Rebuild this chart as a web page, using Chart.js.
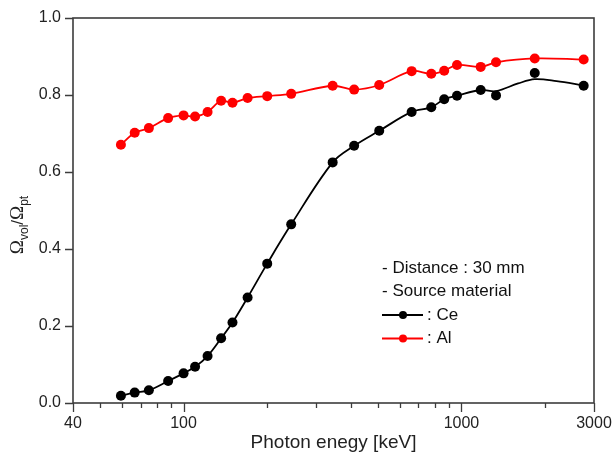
<!DOCTYPE html>
<html>
<head>
<meta charset="utf-8">
<script src="https://cdn.jsdelivr.net/npm/chart.js@4.4.0/dist/chart.umd.min.js"></script>
<style>
  body { margin: 0; background: #fff; }
  canvas { display: block; }
</style>
</head>
<body>
<canvas id="c" width="612" height="464"></canvas>
<script>
// photon energies [keV] (same for both sources)
const energy = [59.5, 66.7, 75, 88, 100, 110, 122, 136.5, 150, 170, 200, 244, 344, 411, 506, 662, 779, 867, 964, 1173, 1332, 1836, 2754];
// Ω_vol / Ω_pt
const ce_vals = [0.019, 0.027, 0.033, 0.057, 0.077, 0.094, 0.122, 0.168, 0.209, 0.274, 0.362, 0.464, 0.625, 0.668, 0.707, 0.756, 0.768, 0.789, 0.798, 0.813, 0.799, 0.857, 0.824];
const al_vals = [0.671, 0.702, 0.714, 0.740, 0.747, 0.744, 0.756, 0.785, 0.780, 0.792, 0.797, 0.803, 0.824, 0.814, 0.826, 0.862, 0.855, 0.863, 0.878, 0.873, 0.885, 0.895, 0.892];
// smoothed curve for Ce (differs from points at the high end)
const ce_fit_e = [59.5, 66.7, 75, 88, 100, 110, 122, 136.5, 150, 170, 200, 244, 344, 411, 506, 662, 779, 867, 964, 1173, 1332, 1600, 1836, 2200, 2754];
const ce_fit_y = [0.019, 0.027, 0.033, 0.057, 0.077, 0.094, 0.122, 0.168, 0.209, 0.274, 0.362, 0.464, 0.625, 0.668, 0.707, 0.756, 0.768, 0.789, 0.798, 0.813, 0.810, 0.830, 0.841, 0.836, 0.825];

// axis ticks
const x_ticks = [40, 50, 60, 70, 80, 90, 100, 200, 300, 400, 500, 600, 700, 800, 900, 1000, 2000, 3000];
const x_labels = [40, 100, 1000, 3000];
const y_ticks = [0, 0.2, 0.4, 0.6, 0.8, 1.0];

const legend_lines = ['- Distance : 30 mm', '- Source material'];
const legend_items = [{ name: ': Ce', color: '#000000' }, { name: ': Al', color: '#ff0000' }];

const FONT = 'Arial, "Liberation Sans", sans-serif';
const AXIS_COLOR = '#3c3c3c';

const pts = (xs, ys) => xs.map((x, i) => ({ x: x, y: ys[i] }));

// no extra room for overhanging tick labels: keep the plot box fixed
function no_pad(s) {
  s.paddingLeft = 0; s.paddingRight = 0; s.paddingTop = 0; s.paddingBottom = 0;
}

// frame, tick marks, titles, legend
const deco_plugin = {
  id: 'deco',
  afterDraw(chart) {
    const { ctx, chartArea: a, scales } = chart;
    ctx.save();
    ctx.strokeStyle = AXIS_COLOR;
    ctx.lineWidth = 1.6;
    ctx.strokeRect(a.left, a.top, a.right - a.left, a.bottom - a.top);

    ctx.beginPath();
    x_ticks.forEach(v => {
      const px = Math.round(scales.x.getPixelForValue(v)) + 0.5;
      const len = x_labels.includes(v) ? 9 : 5;
      ctx.moveTo(px, a.bottom);
      ctx.lineTo(px, a.bottom + len);
    });
    y_ticks.forEach(v => {
      const py = Math.round(scales.y.getPixelForValue(v)) + 0.5;
      ctx.moveTo(a.left, py);
      ctx.lineTo(a.left - 8, py);
    });
    ctx.lineWidth = 1.3;
    ctx.stroke();

    // x title
    ctx.fillStyle = '#222';
    ctx.font = '19px ' + FONT;
    ctx.textAlign = 'center';
    ctx.textBaseline = 'middle';
    ctx.fillText('Photon enegy [keV]', (a.left + a.right) / 2, 443);

    // y title: Ω_vol / Ω_pt
    const parts = [
      { t: 'Ω', f: '19px "Liberation Serif", "Times New Roman", serif', dy: 0 },
      { t: 'vol', f: '12px ' + FONT, dy: 5 },
      { t: '/', f: '17px ' + FONT, dy: 0 },
      { t: 'Ω', f: '19px "Liberation Serif", "Times New Roman", serif', dy: 0 },
      { t: 'pt', f: '12px ' + FONT, dy: 5 }
    ];
    let total = 0;
    parts.forEach(p => { ctx.font = p.f; p.w = ctx.measureText(p.t).width; total += p.w; });
    ctx.translate(23, 225);
    ctx.rotate(-Math.PI / 2);
    ctx.textAlign = 'left';
    ctx.textBaseline = 'alphabetic';
    let cx = -total / 2;
    parts.forEach(p => {
      ctx.font = p.f;
      ctx.fillText(p.t, cx, p.dy);
      cx += p.w;
    });
    ctx.setTransform(1, 0, 0, 1, 0, 0);

    // legend
    const lx = 382, ly0 = 268, step = 23.5;
    ctx.font = '17px ' + FONT;
    ctx.textBaseline = 'middle';
    ctx.fillStyle = '#111';
    legend_lines.forEach((s, i) => ctx.fillText(s, lx, ly0 + i * step));
    legend_items.forEach((it, i) => {
      const y = ly0 + (i + 2) * step;
      ctx.strokeStyle = it.color;
      ctx.lineWidth = 1.8;
      ctx.beginPath();
      ctx.moveTo(lx, y);
      ctx.lineTo(lx + 41, y);
      ctx.stroke();
      ctx.fillStyle = it.color;
      ctx.beginPath();
      ctx.arc(lx + 21, y, 4, 0, Math.PI * 2);
      ctx.fill();
      ctx.fillStyle = '#111';
      ctx.fillText(it.name, lx + 45, y);
    });
    ctx.restore();
  }
};

const ctx = document.getElementById('c').getContext('2d');
new Chart(ctx, {
  type: 'scatter',
  data: {
    datasets: [
      { label: 'Ce', data: pts(energy, ce_vals), showLine: false, pointRadius: 5, pointBackgroundColor: '#000', pointBorderWidth: 0, order: 0 },
      { label: 'Al', data: pts(energy, al_vals), showLine: false, pointRadius: 5, pointBackgroundColor: '#ff0000', pointBorderWidth: 0, order: 0 },
      { label: 'Ce fit', data: pts(ce_fit_e, ce_fit_y), showLine: true, pointRadius: 0, borderColor: '#000', borderWidth: 1.8, tension: 0.35, order: 1 },
      { label: 'Al fit', data: pts(energy, al_vals), showLine: true, pointRadius: 0, borderColor: '#ff0000', borderWidth: 1.8, tension: 0.35, order: 1 }
    ]
  },
  options: {
    responsive: false,
    animation: false,
    layout: { padding: { left: 0, right: 18, top: 18, bottom: 0 } },
    plugins: { legend: { display: false }, tooltip: { enabled: false } },
    scales: {
      x: {
        type: 'logarithmic',
        min: 40,
        max: 3000,
        afterBuildTicks: s => { s.ticks = x_ticks.map(v => ({ value: v })); },
        afterFit: s => { s.height = 61; no_pad(s); },
        grid: { display: false, drawTicks: false },
        border: { display: false },
        ticks: {
          autoSkip: false,
          maxRotation: 0,
          padding: 11,
          color: '#222',
          font: { family: FONT, size: 16 },
          callback: v => x_labels.includes(v) ? String(v) : ''
        }
      },
      y: {
        min: 0,
        max: 1,
        afterBuildTicks: s => { s.ticks = y_ticks.map(v => ({ value: v })); },
        afterFit: s => { s.width = 73; no_pad(s); },
        grid: { display: false, drawTicks: false },
        border: { display: false },
        ticks: {
          padding: 12,
          color: '#222',
          font: { family: FONT, size: 16 },
          callback: v => Number(v).toFixed(1)
        }
      }
    }
  },
  plugins: [deco_plugin]
});
</script>
</body>
</html>
